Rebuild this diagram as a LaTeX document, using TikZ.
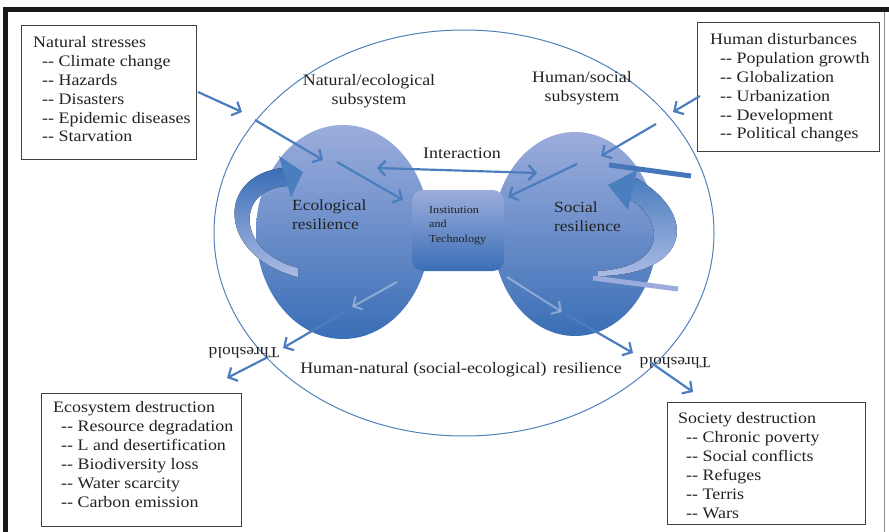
\documentclass[tikz,border=0pt]{standalone}
\usepackage{fontspec}
\setmainfont{Liberation Serif}[FakeStretch=1.12]
\usetikzlibrary{arrows.meta,calc,shapes.geometric}
\definecolor{ellblue}{HTML}{4F81BD}
\definecolor{arrblue}{HTML}{4A7EBF}
\definecolor{shtop}{HTML}{9CADDC}
\definecolor{shbot}{HTML}{3A6EB6}
\definecolor{bandlight}{HTML}{ABBBE4}
\definecolor{bardark}{HTML}{4676BA}
\definecolor{barlight}{HTML}{9AABDC}
\definecolor{txt}{HTML}{222222}
\begin{document}
\begin{tikzpicture}[x=1pt,y=-1pt,
  box/.style={draw=black!75, line width=1.2pt, fill=white, inner sep=0pt, anchor=north west},
  boxtext/.style={anchor=base west, align=left, inner sep=0pt, text=txt, font=\fontsize{16}{18.8}\selectfont},
  lbl/.style={inner sep=0pt, text=txt, font=\fontsize{16}{19}\selectfont},
  blob/.style={ellipse, inner sep=0pt, top color=shtop, bottom color=shbot},
  arr/.style={draw=arrblue, line width=2.2pt, -{Straight Barb[length=7pt,width=15pt]}},
  faint/.style={draw=white, draw opacity=0.35, line width=2pt, -{Straight Barb[length=7pt,width=15pt]}}
]
\useasboundingbox (0,0) rectangle (889,532);
% frame
\draw[line width=5pt, black!90] (5.5,532) -- (5.5,10) -- (889,10);
\draw[line width=1pt, black!45] (884.5,12.5) -- (884.5,532);

% big ellipse
\node[ellipse, draw=ellblue, line width=1pt, inner sep=0pt, minimum width=500pt, minimum height=406pt] (outer) at (464,233) {};

% inner ellipses
\node[blob, minimum width=174pt, minimum height=214pt] (eco) at (343,232) {};
\node[blob, minimum width=164pt, minimum height=204pt] (soc) at (575,234) {};

% institution box
\node[rounded corners=11pt, inner sep=0pt, minimum width=92pt, minimum height=81pt, top color=shtop, bottom color=shbot] (inst) at (458,230.5) {};
\node[anchor=base west, align=left, inner sep=0pt, text=txt, font=\fontsize{10.8}{14.5}\selectfont] (instlbl) at (429,242) {Institution\\and\\Technology};

% eco curved block arrow
\fill[top color=shbot, bottom color=bandlight] (283,168) .. controls (216,175) and (216,256) .. (298,277) -- (298,268) .. controls (235,252) and (235,187) .. (289,186) -- cycle;
\fill[arrblue] (279,156) -- (303,172) -- (291,197) -- cycle;

% social curved block arrow
\fill[top color=arrblue, bottom color=bandlight] (636,178) .. controls (700,215) and (690,275) .. (598,276) -- (598,271) .. controls (665,268) and (668,222) .. (628,198) -- cycle;
\fill[arrblue] (608,185) -- (637,170) -- (628,210) -- cycle;
\draw[line width=5pt, bardark] (609,165) -- (691,176);
\draw[line width=5pt, barlight] (593,278) -- (678,289);

% outer boxes
\node[box, minimum width=175pt, minimum height=134pt] (ns) at (21,25) {};
\node[box, minimum width=182pt, minimum height=129pt] (hd) at (697,22) {};
\node[box, minimum width=200pt, minimum height=133pt] (ed) at (41,393) {};
\node[box, minimum width=198pt, minimum height=122pt] (sd) at (667,402) {};

\node[boxtext] (nstxt) at (33,142) {Natural stresses\\\hspace*{9pt}-{}- Climate change\\\hspace*{9pt}-{}- Hazards\\\hspace*{9pt}-{}- Disasters\\\hspace*{9pt}-{}- Epidemic diseases\\\hspace*{9pt}-{}- Starvation};
\node[boxtext] (hdtxt) at (710,139) {Human disturbances\\\hspace*{10pt}-{}- Population growth\\\hspace*{10pt}-{}- Globalization\\\hspace*{10pt}-{}- Urbanization\\\hspace*{10pt}-{}- Development\\\hspace*{10pt}-{}- Political changes};
\node[boxtext, font=\fontsize{16}{19.1}\selectfont] (edtxt) at (53,507.5) {Ecosystem destruction\\\hspace*{8pt}-{}- Resource degradation\\\hspace*{8pt}-{}- L and desertification\\\hspace*{8pt}-{}- Biodiversity loss\\\hspace*{8pt}-{}- Water scarcity\\\hspace*{8pt}-{}- Carbon emission};
\node[boxtext, font=\fontsize{16}{19}\selectfont] (sdtxt) at (678,518) {Society destruction\\\hspace*{8pt}-{}- Chronic poverty\\\hspace*{8pt}-{}- Social conflicts\\\hspace*{8pt}-{}- Refuges\\\hspace*{8pt}-{}- Terris\\\hspace*{8pt}-{}- Wars};

% labels
\node[lbl, anchor=base, align=center] (natsub) at (369,105) {Natural/ecological\\subsystem};
\node[lbl, anchor=base, align=center] (humsub) at (582,102) {Human/social\\subsystem};
\node[lbl, anchor=base] (interlbl) at (462,158) {Interaction};
\node[lbl, anchor=base west, align=left, font=\fontsize{15.5}{19}\selectfont] (ecolbl) at (292,229) {Ecological\\resilience};
\node[lbl, anchor=base west, align=left, font=\fontsize{15.5}{19}\selectfont] (soclbl) at (554,231) {Social\\resilience};
\node[lbl, anchor=base] (hnlbl) at (461,373) {Human-natural (social-ecological)\hspace{2pt} resilience};
\node[lbl, rotate=180, font=\fontsize{15.5}{19}\selectfont] (thl) at (244,353) {Threshold};
\node[lbl, rotate=180, font=\fontsize{15.5}{19}\selectfont] (thr) at (675,363) {Threshold};

% arrow endpoints
\coordinate (a1s) at (198,92);  \coordinate (a1e) at (242,112);
\coordinate (a2s) at (255,120); \coordinate (a2e) at (323,160);
\coordinate (a3s) at (337,162); \coordinate (a3e) at (403,200);
\coordinate (int1) at (377,168); \coordinate (int2) at (537,173);
\coordinate (a5s) at (700,96);  \coordinate (a5e) at (673,112);
\coordinate (a6s) at (656,124); \coordinate (a6e) at (601,156);
\coordinate (a7s) at (577,164); \coordinate (a7e) at (508,197);
\coordinate (tl1s) at (397,282); \coordinate (tl1e) at (352,307);
\coordinate (tl2s) at (346,311); \coordinate (tl2e) at (283,348);
\coordinate (tl3s) at (268,357); \coordinate (tl3e) at (227,378);
\coordinate (tr1s) at (507,277); \coordinate (tr1e) at (562,312);
\coordinate (tr2s) at (567,315); \coordinate (tr2e) at (633,353);
\coordinate (tr3s) at (650,362); \coordinate (tr3e) at (693,392);

\draw[arr] (a1s) -- (a1e);
\draw[arr] (a2s) -- (a2e);
\draw[arr] (a3s) -- (a3e);
\draw[arr, {Straight Barb[length=7pt,width=15pt]}-{Straight Barb[length=7pt,width=15pt]}] (int1) -- (int2);
\draw[arr] (a5s) -- (a5e);
\draw[arr] (a6s) -- (a6e);
\draw[arr] (a7s) -- (a7e);
\draw[faint] (tl1s) -- (tl1e);
\draw[arr] (tl2s) -- (tl2e);
\draw[arr] (tl3s) -- (tl3e);
\draw[faint] (tr1s) -- (tr1e);
\draw[arr] (tr2s) -- (tr2e);
\draw[arr] (tr3s) -- (tr3e);
\end{tikzpicture}
\end{document}
